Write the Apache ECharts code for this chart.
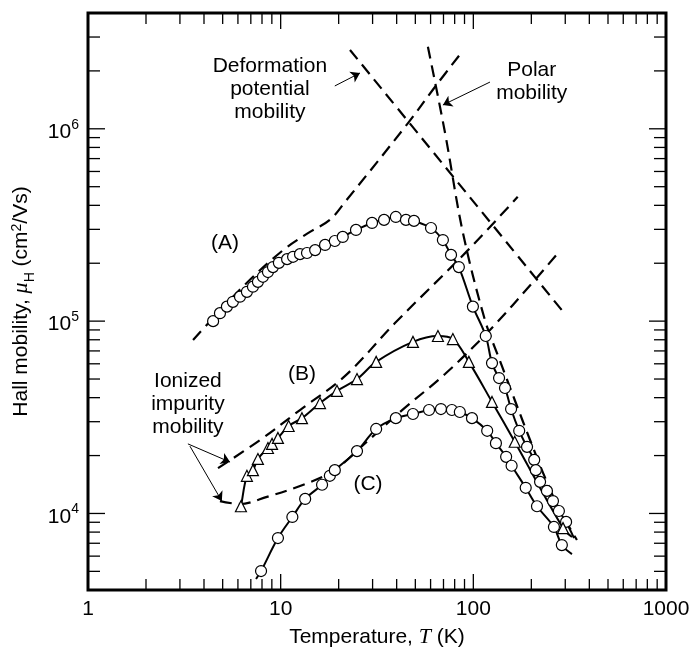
<!DOCTYPE html>
<html><head><meta charset="utf-8">
<script src="https://cdn.jsdelivr.net/npm/echarts@6/dist/echarts.min.js"></script>
<style>html,body{margin:0;padding:0;background:#fff}#c{width:691px;height:648px}</style>
</head><body><div id="c"></div>
<script>
// ---- axis ticks ----
const xMajor = [1, 10, 100, 1000];
const yMajor = [1e4, 1e5, 1e6];
const minorMult = [2, 3, 4, 5, 6, 7, 8, 9];
const xDecades = [1, 10, 100];
const yMinorExtra = [5e3, 6e3, 7e3, 8e3, 9e3, 2e6, 3e6];
const yDecades = [1e4, 1e5];

// ---- sample (A): circles ----
const A_T  = [4.46,4.84,5.26,5.65,6.15,6.68,7.18,7.62,8.09,8.59,9.12,9.79,10.8,11.6,12.6,13.7,15.1,17.0,19.1,21.0,24.6,29.8,34.4,39.6,44.7,49.2,60.3,69.5,76.6,84.1,99.5,116,125,136,146,157,173,190,207,211,222,241,259,278,303];
const A_mu = [1.00e5,1.10e5,1.19e5,1.26e5,1.34e5,1.42e5,1.51e5,1.60e5,1.70e5,1.80e5,1.91e5,2.01e5,2.10e5,2.16e5,2.23e5,2.26e5,2.34e5,2.49e5,2.61e5,2.74e5,2.98e5,3.24e5,3.36e5,3.48e5,3.36e5,3.32e5,3.05e5,2.64e5,2.21e5,1.91e5,1.19e5,8.37e4,6.05e4,5.06e4,4.49e4,3.49e4,2.69e4,2.22e4,1.90e4,1.68e4,1.46e4,1.31e4,1.16e4,1.03e4,9.04e3];
const A_end = [333, 7.45e3];

// ---- sample (B): triangles ----
const B_T  = [6.22,6.68,7.18,7.62,8.59,9.02,9.68,11.0,12.9,16.0,19.6,24.9,31.3,48.6,65.5,78.3,94.8,125,164,292];
const B_mu = [1.09e4,1.57e4,1.68e4,1.92e4,2.19e4,2.30e4,2.47e4,2.85e4,3.13e4,3.75e4,4.34e4,5.00e4,6.14e4,7.80e4,8.37e4,8.07e4,6.14e4,3.80e4,2.36e4,8.39e3];
const B_start = [6.1, 1.02e4];
const B_end = [325, 7.55e3];

// ---- sample (C): circles ----
const C_T  = [7.91,9.68,11.5,13.4,16.4,18.0,19.1,24.9,31.3,39.6,48.6,58.9,67.9,77.4,85.1,98.4,118,131,148,158,187,214,262,288];
const C_mu = [5.02e3,7.45e3,9.59e3,1.19e4,1.41e4,1.57e4,1.68e4,2.11e4,2.75e4,3.13e4,3.29e4,3.45e4,3.49e4,3.45e4,3.37e4,3.13e4,2.69e4,2.32e4,1.97e4,1.77e4,1.36e4,1.09e4,8.51e3,6.85e3];
const C_start = [7.45, 4.56e3];
const C_end = [325, 6.15e3];

// ---- theoretical (dashed) curves ----
const deform_T  = [22.9, 288];
const deform_mu = [2.57e6, 1.14e5];
const polar_T  = [58.1,71.3,88.3,115,137,164,197,236,281,345];
const polar_mu = [2.67e6,9.53e5,2.88e5,1.01e5,6.28e4,3.89e4,2.41e4,1.53e4,1.04e4,7.28e3];
const dashA_T  = [3.51,6.37,10.3,14.2,18.0,21.6,45.8,63.2,87.3];
const dashA_mu = [7.98e4,1.51e5,2.34e5,2.91e5,3.36e5,4.17e5,1.07e6,1.65e6,2.51e6];
const dashB_T  = [4.73,7.82,12.6,21.6,39.2,93.8,170];
const dashB_mu = [1.72e4,2.41e4,3.45e4,5.19e4,9.77e4,2.34e5,4.43e5];
const dashC_T  = [4.84,6.15,8.49,12.6,18.7,25.8,41.6,71.3,122,209,275];
const dashC_mu = [1.16e4,1.12e4,1.22e4,1.39e4,1.66e4,2.19e4,3.37e4,5.31e4,9.00e4,1.64e5,2.26e5];

// ---- annotations ----
const noteText = ['Deformation\npotential\nmobility', 'Polar\nmobility', 'Ionized\nimpurity\nmobility', '(A)', '(B)', '(C)'];
const noteT    = [8.79, 201, 3.30, 5.14, 12.9, 28.4];
const noteMu   = [1.60e6, 1.75e6, 3.71e4, 2.55e5, 5.31e4, 1.42e4];
const arrowFrom = [[19.1, 1.67e6], [122, 1.75e6], [3.30, 2.30e4], [3.38, 2.24e4]];
const arrowTo   = [[25.8, 1.95e6], [69.5, 1.33e6], [5.46, 1.85e4], [4.95, 1.16e4]];

const X_MIN = 1, X_MAX = 1000, Y_MIN = 4000, Y_MAX = 4e6;
const FONT = 'Liberation Sans, Arial, Helvetica, sans-serif';

function zip(t, m) { return t.map((v, i) => [v, m[i]]); }

const xMinor = [];
xDecades.forEach(d => minorMult.forEach(k => xMinor.push(d * k)));
const yMinor = yMinorExtra.slice();
yDecades.forEach(d => minorMult.forEach(k => yMinor.push(d * k)));

function tickSeries(values, isX, len) {
  return {
    type: 'custom', silent: true, z: 1,
    data: values.map(v => [v]),
    renderItem: function (params, api) {
      const v = api.value(0);
      let a, b;
      const st = { stroke: '#000', lineWidth: 1.3 };
      if (isX) {
        a = api.coord([v, Y_MIN]); b = api.coord([v, Y_MAX]);
        return { type: 'group', children: [
          { type: 'line', shape: { x1: a[0], y1: a[1], x2: a[0], y2: a[1] - len }, style: st },
          { type: 'line', shape: { x1: b[0], y1: b[1], x2: b[0], y2: b[1] + len }, style: st }
        ]};
      } else {
        a = api.coord([X_MIN, v]); b = api.coord([X_MAX, v]);
        return { type: 'group', children: [
          { type: 'line', shape: { x1: a[0], y1: a[1], x2: a[0] + len, y2: a[1] }, style: st },
          { type: 'line', shape: { x1: b[0], y1: b[1], x2: b[0] - len, y2: b[1] }, style: st }
        ]};
      }
    }
  };
}

function dashed(t, m) {
  return { type: 'line', data: zip(t, m), smooth: 0.35, showSymbol: false, symbol: 'none', z: 3,
    lineStyle: { color: '#000', width: 2.2, type: [12, 7], opacity: 1 }, silent: true };
}
function solid(pts) {
  return { type: 'line', data: pts, smooth: 0.35, showSymbol: false, symbol: 'none', z: 4,
    lineStyle: { color: '#000', width: 2, opacity: 1 }, silent: true };
}
function markers(t, m, sym) {
  return { type: 'scatter', data: zip(t, m), symbol: sym, symbolSize: 11, z: 6,
    itemStyle: { color: '#ffffff', borderColor: '#000', borderWidth: 1.2, opacity: 1 }, silent: true };
}

const option = {
  animation: false,
  backgroundColor: '#fff',
  grid: { left: 88, right: 25, top: 13, bottom: 58, containLabel: false, outerBoundsMode: 'none',
    show: true, borderColor: '#000', borderWidth: 3, backgroundColor: 'transparent' },
  xAxis: {
    type: 'log', logBase: 10, min: X_MIN, max: X_MAX,
    axisLine: { show: false }, axisTick: { show: false }, splitLine: { show: false },
    axisLabel: { color: '#000', fontSize: 21, fontFamily: FONT, margin: 9,
      formatter: v => (xMajor.indexOf(Math.round(v)) >= 0 ? String(Math.round(v)) : '') },
    name: 'Temperature, {i|T} (K)', nameLocation: 'middle', nameGap: 36,
    nameTextStyle: { color: '#000', fontSize: 21, fontFamily: FONT,
      rich: { i: { fontStyle: 'italic', fontFamily: 'Liberation Serif, Times New Roman, serif', fontSize: 22, color: '#000' } } }
  },
  yAxis: {
    type: 'log', logBase: 10, min: Y_MIN, max: Y_MAX,
    axisLine: { show: false }, axisTick: { show: false }, splitLine: { show: false },
    axisLabel: { color: '#000', margin: 9,
      formatter: function (v) {
        const e = Math.log10(v);
        if (Math.abs(e - Math.round(e)) < 1e-6 && yMajor.indexOf(Math.pow(10, Math.round(e))) >= 0) {
          return '{b|10}{s|' + Math.round(e) + '}';
        }
        return '';
      },
      rich: {
        b: { fontSize: 21, fontFamily: FONT, color: '#000', lineHeight: 22, padding: [7, 0, 0, 0] },
        s: { fontSize: 14, fontFamily: FONT, color: '#000', lineHeight: 14, verticalAlign: 'top' }
      }
    },
    name: 'Hall mobility, {i|μ}{sub|H} (cm{sup|2}/Vs)', nameLocation: 'middle', nameGap: 51,
    nameTextStyle: { color: '#000', fontSize: 21, fontFamily: FONT, lineHeight: 23,
      rich: {
        i: { fontStyle: 'italic', fontSize: 22, fontFamily: 'Liberation Serif, Times New Roman, serif', color: '#000' },
        sub: { fontSize: 14, fontFamily: FONT, color: '#000', verticalAlign: 'bottom', lineHeight: 14, padding: [0,0,-4,0] },
        sup: { fontSize: 14, fontFamily: FONT, color: '#000', verticalAlign: 'top', lineHeight: 14 }
      } }
  },
  series: [
    tickSeries(xMajor, true, 16),
    tickSeries(xMinor, true, 11),
    tickSeries(yMajor, false, 17),
    tickSeries(yMinor, false, 12),
    dashed(deform_T, deform_mu),
    dashed(polar_T, polar_mu),
    dashed(dashA_T, dashA_mu),
    dashed(dashB_T, dashB_mu),
    dashed(dashC_T, dashC_mu),
    solid(zip(A_T, A_mu).concat([A_end])),
    solid([B_start].concat(zip(B_T, B_mu), [B_end])),
    solid([C_start].concat(zip(C_T, C_mu), [C_end])),
    markers(A_T, A_mu, 'circle'),
    markers(B_T, B_mu, 'triangle'),
    markers(C_T, C_mu, 'circle'),
    {
      type: 'lines', coordinateSystem: 'cartesian2d', z: 5, silent: true,
      symbol: ['none', 'arrow'], symbolSize: [0, 9],
      lineStyle: { color: '#000', width: 1, opacity: 1 },
      data: arrowFrom.map((p, i) => ({ coords: [p, arrowTo[i]] }))
    },
    {
      type: 'scatter', symbolSize: 0, z: 7, silent: true,
      itemStyle: { opacity: 1 },
      data: noteText.map((s, i) => ({ value: [noteT[i], noteMu[i]], name: s })),
      label: { show: true, position: 'inside', formatter: p => p.name, color: '#000', opacity: 1,
        fontSize: 21, fontFamily: FONT, lineHeight: 23, align: 'center', verticalAlign: 'middle' }
    }
  ]
};
const chart = echarts.init(document.getElementById('c'));
chart.setOption(option);
</script></body></html>
